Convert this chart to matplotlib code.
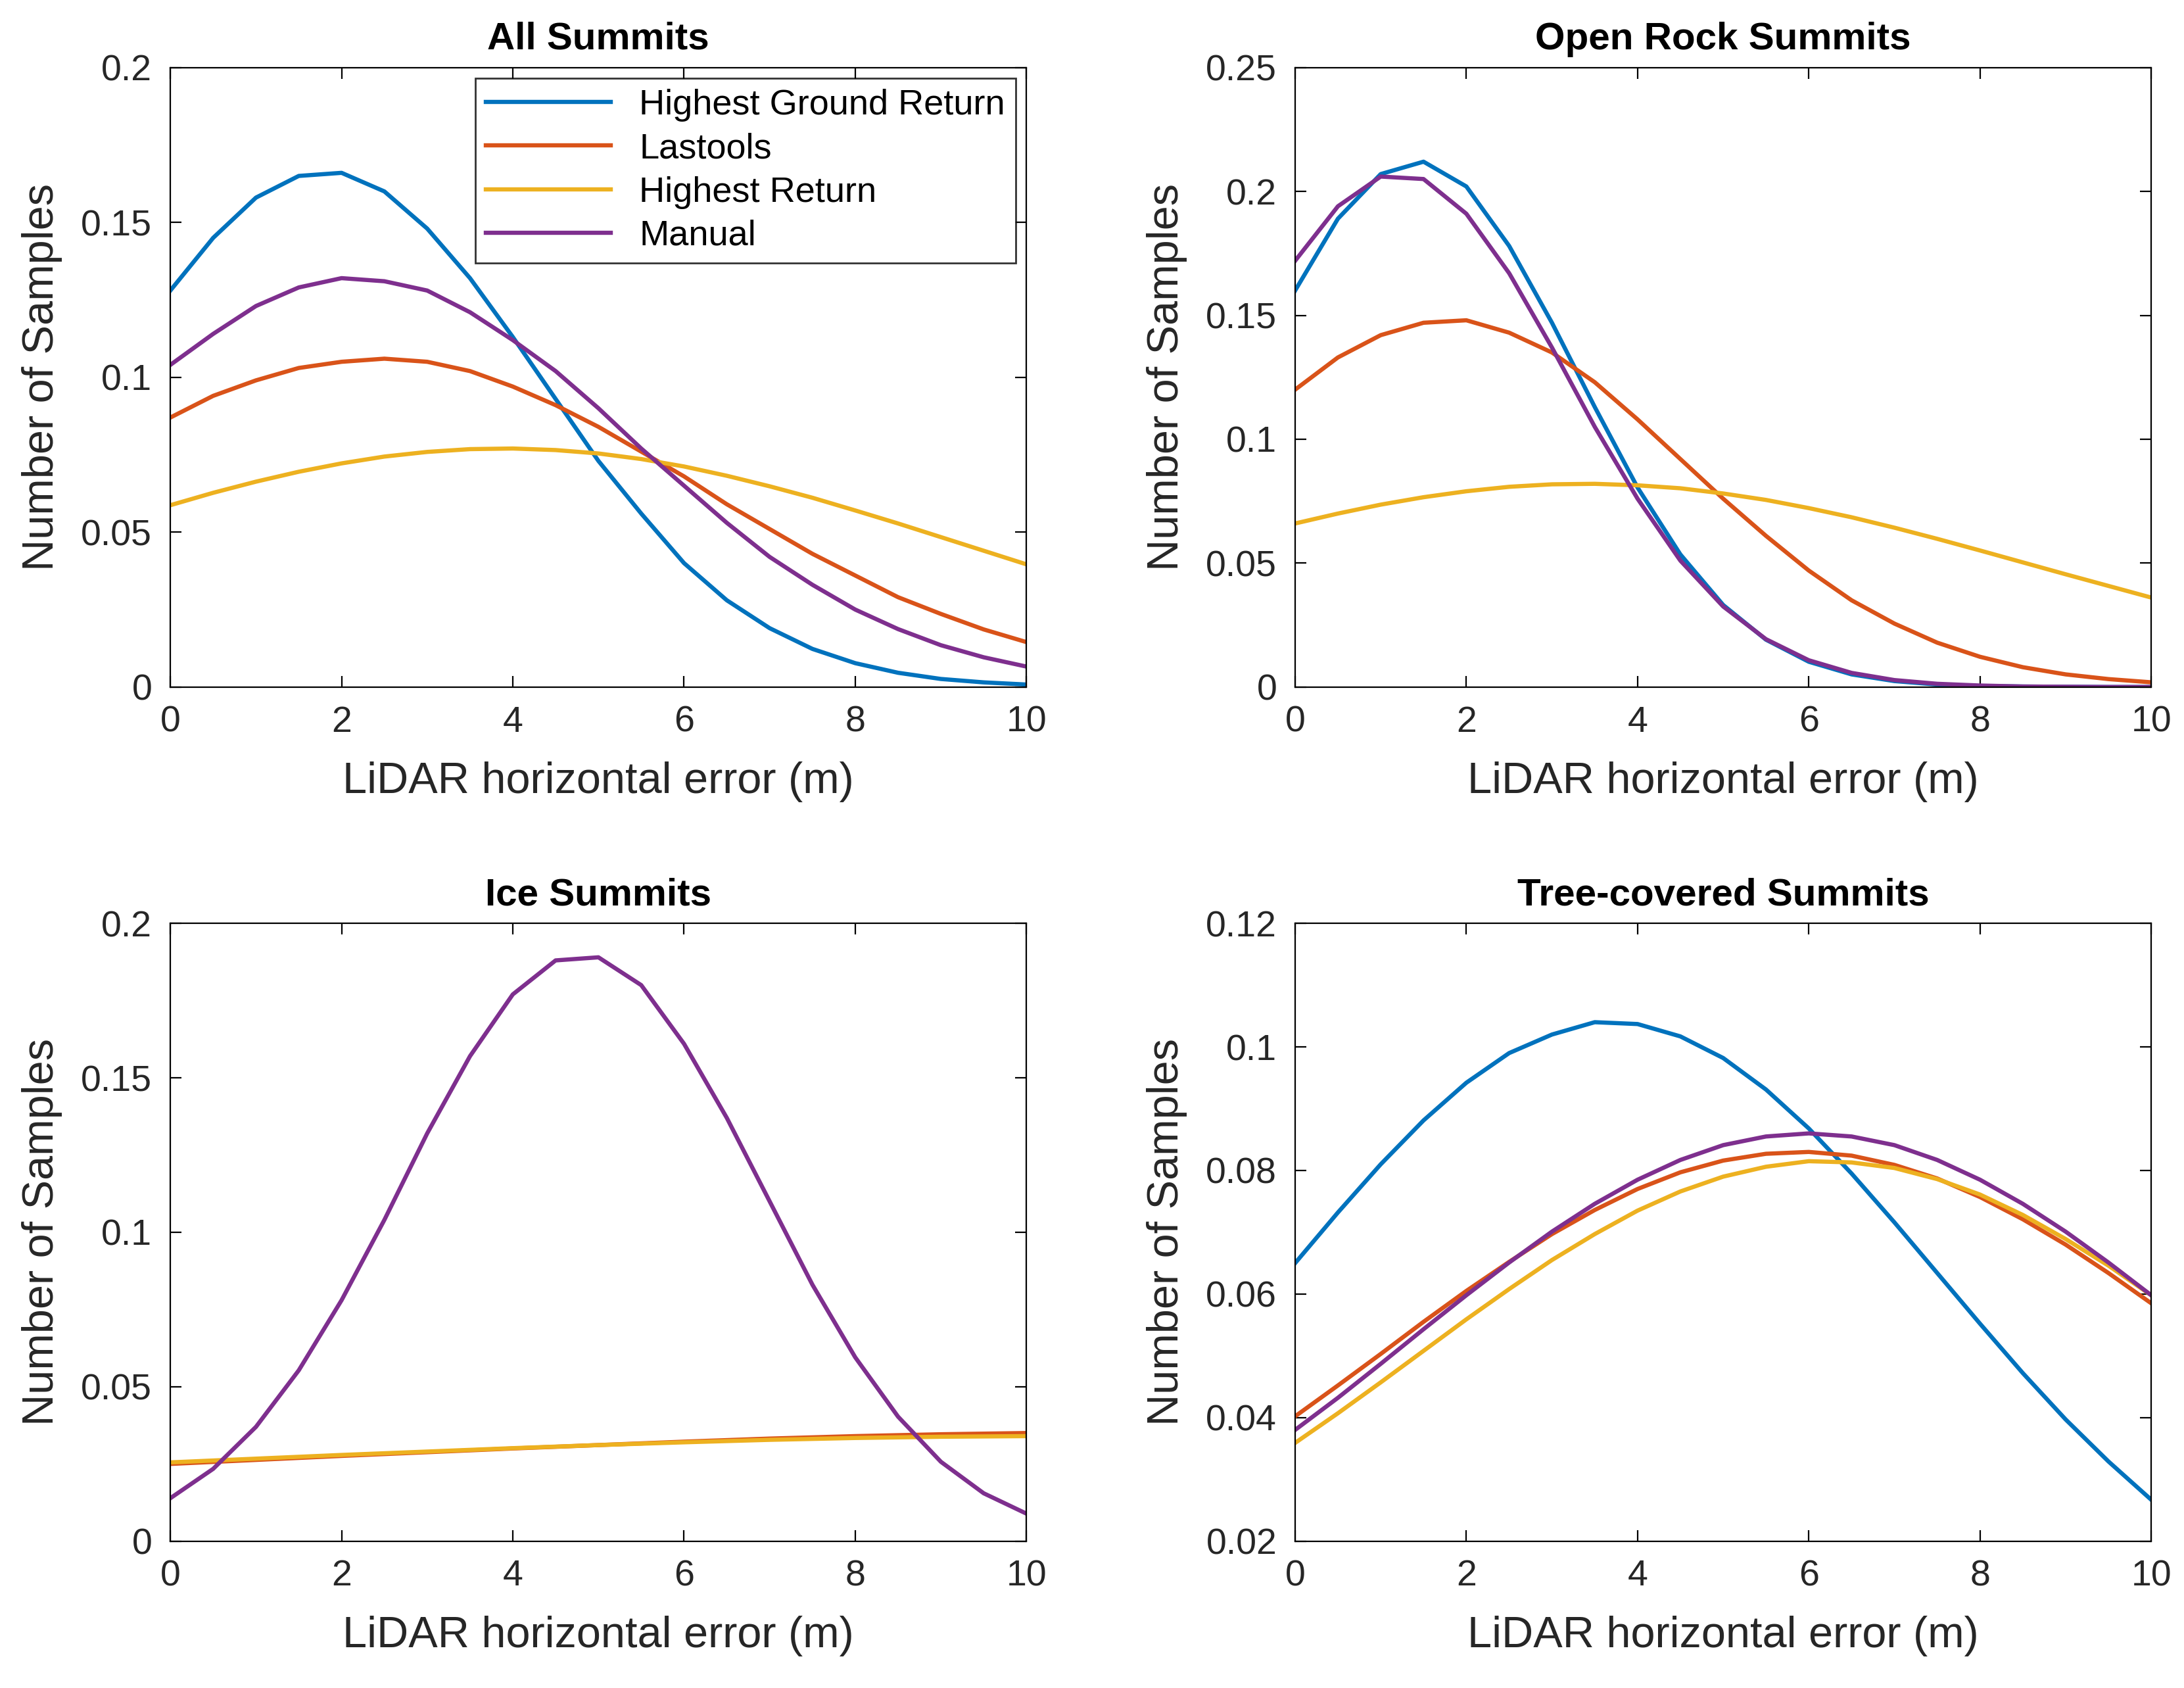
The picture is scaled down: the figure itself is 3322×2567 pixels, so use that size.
import matplotlib.pyplot as plt
import numpy as np

plt.rcParams['font.family'] = ['Liberation Sans', 'DejaVu Sans']
plt.rcParams['font.size'] = 20

# 曲线颜色 (MATLAB 默认)
colors = {'Highest Ground Return': '#0072BD', 'Lastools': '#D95319',
          'Highest Return': '#EDB120', 'Manual': '#7E2F8E'}

x = np.arange(0, 10.01, 0.5)
x_coarse = np.arange(0, 11, 1)

# All Summits
all_hgr = [.128, .145, .158, .165, .166, .160, .148, .132, .113, .093, .073, .056, .040, .028, .019, .0123, .0077, .0046, .0026, .0015, .0008]
all_las = [.087, .094, .099, .103, .105, .106, .105, .102, .097, .091, .084, .076, .068, .059, .051, .043, .036, .029, .0236, .0186, .0145]
all_hr = [.0587, .0627, .0663, .0695, .0722, .0744, .0759, .0768, .077, .0765, .0754, .0736, .0712, .0682, .0648, .0611, .0570, .0528, .0484, .0440, .0396]
all_man = [.104, .114, .123, .129, .132, .131, .128, .121, .112, .102, .090, .077, .065, .053, .042, .033, .025, .0187, .0135, .0096, .0066]

# Open Rock Summits
or_hgr = [.160, .189, .207, .212, .202, .178, .147, .113, .0805, .0535, .0331, .0191, .0102, .0051, .0024, .001, .0004, .0002, .0001, 0, 0]
or_las = [.120, .133, .142, .147, .148, .143, .135, .123, .108, .092, .076, .061, .047, .035, .0256, .0179, .0122, .008, .0051, .0032, .0019]
or_hr = [.066, .070, .0736, .0766, .079, .0808, .0818, .082, .0814, .0802, .0781, .0755, .0722, .0685, .0643, .0598, .0551, .0503, .0455, .0408, .0361]
or_man = [.172, .194, .206, .205, .191, .167, .137, .105, .076, .051, .0325, .0193, .0108, .0057, .0028, .0013, .0006, .0002, .0001, 0, 0]

# Ice Summits
ice_las = [.0250, .0263, .0276, .0288, .0300, .0311, .0322, .0332, .0340, .0346, .0350]
ice_hr = [.0255, .0267, .0279, .0290, .0301, .0311, .0320, .0328, .0334, .0338, .0340]
ice_man = [.0139, .0234, .037, .0553, .078, .104, .132, .157, .177, .188, .189, .180, .161, .137, .110, .083, .0595, .0403, .0257, .0155, .0089]

# Tree-covered Summits
tr_hgr = [.065, .0732, .081, .0881, .0942, .099, .102, .104, .1037, .1017, .0982, .0931, .0868, .0795, .0716, .0634, .0552, .0472, .0397, .0329, .0267]
tr_las = [.0402, .0452, .0503, .0555, .0605, .0652, .0697, .0736, .077, .0797, .0816, .0827, .083, .0824, .0809, .0787, .0757, .0721, .068, .0634, .0585]
tr_hr = [.0359, .0407, .0457, .0508, .0559, .0608, .0655, .0697, .0735, .0766, .0790, .0806, .0815, .0813, .0804, .0786, .0761, .0728, .0689, .0646, .0598]
tr_man = [.0380, .0432, .0487, .0543, .0598, .0651, .0701, .0746, .0785, .0817, .0841, .0855, .086, .0855, .0841, .0817, .0785, .0746, .0701, .0651, .0598]

panels = [
    ('All Summits', [.078, .593, .392, .367], (0, 0.2), np.arange(0, 0.21, 0.05),
     [('Highest Ground Return', x, all_hgr), ('Lastools', x, all_las),
      ('Highest Return', x, all_hr), ('Manual', x, all_man)]),
    ('Open Rock Summits', [.593, .593, .392, .367], (0, 0.25), np.arange(0, 0.26, 0.05),
     [('Highest Ground Return', x, or_hgr), ('Lastools', x, or_las),
      ('Highest Return', x, or_hr), ('Manual', x, or_man)]),
    ('Ice Summits', [.078, .087, .392, .366], (0, 0.2), np.arange(0, 0.21, 0.05),
     [('Lastools', x_coarse, ice_las), ('Highest Return', x_coarse, ice_hr),
      ('Manual', x, ice_man)]),
    ('Tree-covered Summits', [.593, .087, .392, .366], (0.02, 0.12), np.arange(0.02, 0.121, 0.02),
     [('Highest Ground Return', x, tr_hgr), ('Lastools', x, tr_las),
      ('Highest Return', x, tr_hr), ('Manual', x, tr_man)]),
]

fig = plt.figure(figsize=(16.61, 12.835), dpi=200)
for title, pos, ylim, yticks, series in panels:
    ax = fig.add_axes(pos)
    for name, xs, ys in series:
        ax.plot(xs, ys, color=colors[name], lw=2.3, label=name)
    ax.set_xlim(0, 10)
    ax.set_ylim(*ylim)
    ax.set_xticks(range(0, 11, 2))
    ax.set_yticks(yticks)
    ax.set_yticklabels(['%g' % round(v, 3) for v in yticks])
    ax.tick_params(direction='in', length=6, top=True, right=True, pad=10,
                   labelsize=20, labelcolor='#262626')
    ax.set_title(title, fontweight='bold', fontsize=21, pad=10)
    ax.set_xlabel('LiDAR horizontal error (m)', fontsize=24, labelpad=12, color='#262626')
    ax.set_ylabel('Number of Samples', fontsize=24, labelpad=10, color='#262626')
    if title == 'All Summits':
        ax.legend(loc='upper right', fontsize=19.5, fancybox=False, edgecolor='black',
                  handlelength=3.5, borderaxespad=0.3, labelspacing=0.3, borderpad=0.3)

fig.savefig('out.png', dpi=200)
